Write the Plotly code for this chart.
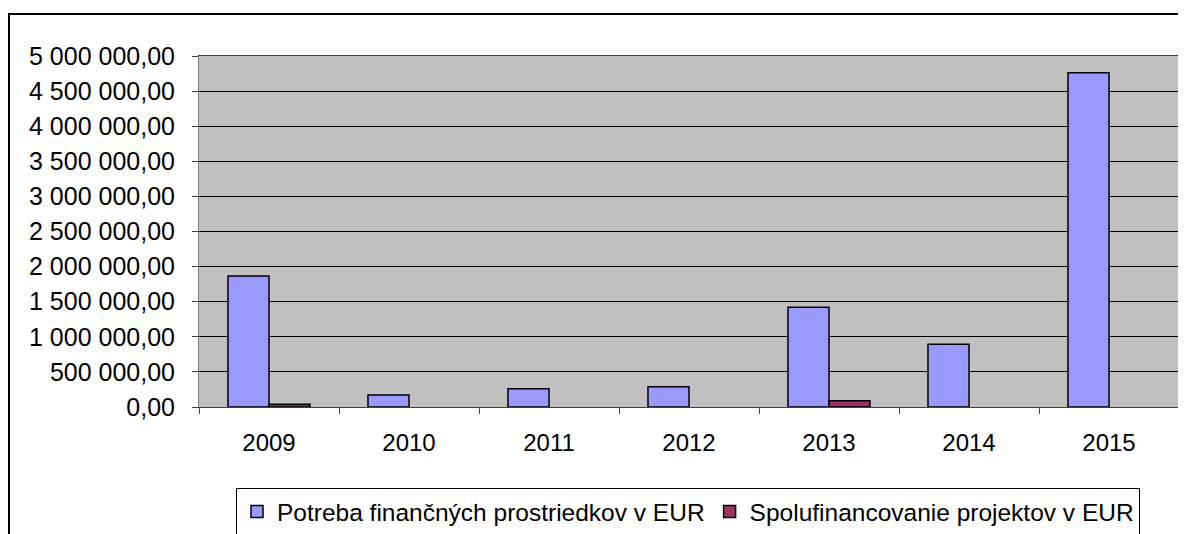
import plotly.graph_objects as go

years = ['2009', '2010', '2011', '2012', '2013', '2014', '2015']
potreba = [1865000, 171000, 261000, 289000, 1420000, 893000, 4762000]
spolufin = [38000, None, None, None, 90000, None, None]

W, H = 1186, 534
OFF = 8  # page body margin in the browser
# plot area edges in screen pixels
PL, PR, PT, PB = 199, 1179, 56, 407
L, T = PL - OFF, PT - OFF
R, B = W - (PR - OFF), H - (PB - OFF)
pw, ph = PR - PL, PB - PT


def px_x(x):
    return (x - PL) / pw


def px_y(y):
    return (PB - y) / ph


fig = go.Figure()

fig.add_trace(go.Bar(
    x=years,
    y=potreba,
    name='Potreba finančných prostriedkov v EUR',
    marker=dict(color='#9999FF', line=dict(color='black', width=1.5))
))

fig.add_trace(go.Bar(
    x=years,
    y=spolufin,
    name='Spolufinancovanie projektov v EUR',
    marker=dict(color='#993366', line=dict(color='black', width=1.5))
))

# outer chart border
fig.add_shape(
    type='rect', xref='paper', yref='paper', layer='below',
    x0=px_x(9), x1=px_x(1200), y0=px_y(560), y1=px_y(14),
    line=dict(color='black', width=2), fillcolor='rgba(0,0,0,0)'
)

fig.update_layout(
    width=W,
    height=H,
    margin=dict(l=L, r=R, t=T, b=B, autoexpand=False),
    paper_bgcolor='white',
    plot_bgcolor='#C0C0C0',
    font=dict(family='Liberation Sans, Arial, sans-serif', size=24, color='black'),
    separators=', ',
    barmode='group',
    bargap=0.414,
    bargroupgap=0,
    showlegend=True,
    legend=dict(
        orientation='h',
        x=px_x(236), xanchor='left',
        y=px_y(488), yanchor='top',
        bordercolor='black',
        borderwidth=1,
        font=dict(size=24.5),
        itemwidth=30,
        tracegroupgap=0,
    ),
    xaxis=dict(
        type='category',
        ticks='outside',
        tickson='boundaries',
        ticklen=6,
        tickcolor='#404040',
        showline=True,
        linecolor='#404040',
        linewidth=1,
        mirror=True,
        showgrid=False,
        tickfont=dict(size=24),
        ticklabelstandoff=14,
    ),
    yaxis=dict(
        range=[0, 5000000],
        dtick=500000,
        tickformat=',.2f',
        ticks='outside',
        ticklen=6,
        tickcolor='#404040',
        showline=True,
        linecolor='#808080',
        linewidth=1,
        mirror=True,
        showgrid=True,
        gridcolor='black',
        gridwidth=1,
        zeroline=False,
        tickfont=dict(size=25),
        ticklabelstandoff=12,
    ),
)

fig.write_html('out.html')
